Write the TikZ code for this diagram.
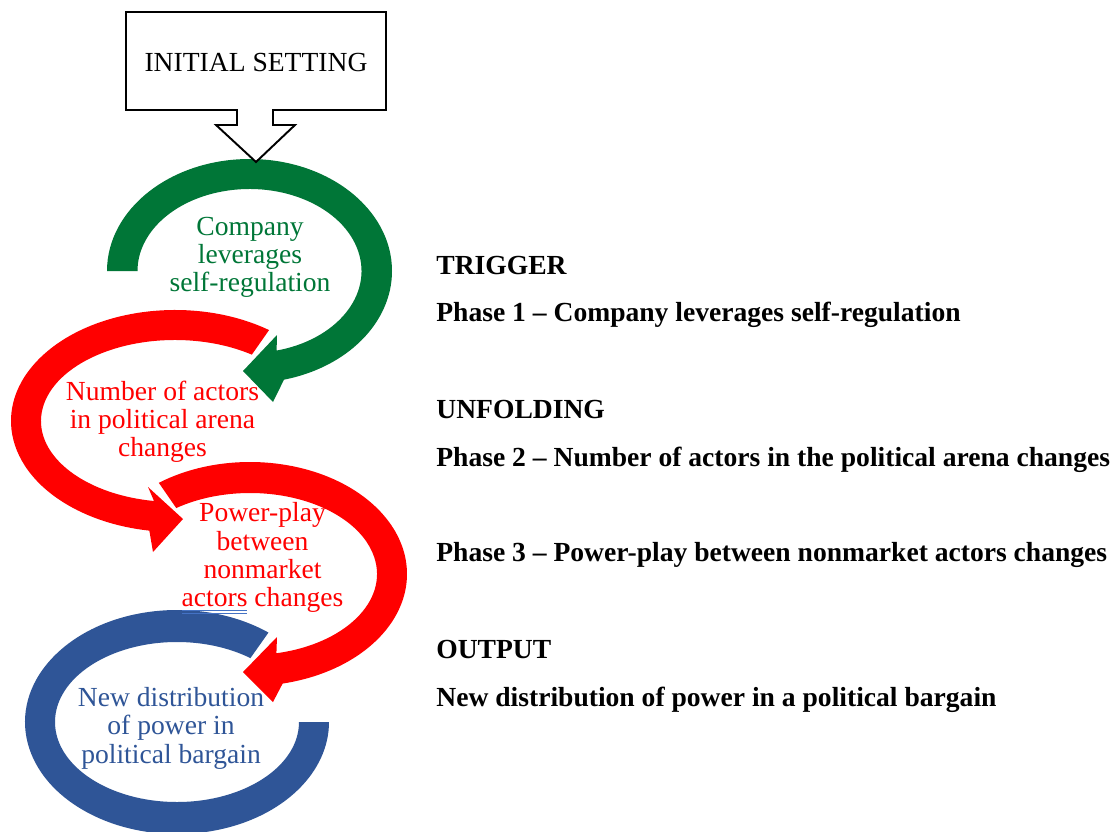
\documentclass[tikz,border=0pt]{standalone}
\usepackage{fontspec}
\setmainfont{Liberation Serif}
\definecolor{ringgreen}{RGB}{0,118,55}
\definecolor{ringred}{RGB}{255,0,0}
\definecolor{ringblue}{RGB}{47,85,151}
\definecolor{spellblue}{RGB}{68,114,196}
\tikzset{
  ring/.style={fill=#1, preaction={draw=white, line width=0.08cm}},
  ringtext/.style={align=center, inner sep=0pt, text=#1, anchor=base,
    font=\fontsize{15.7}{16.1}\selectfont},
  phase/.style={anchor=base west, inner sep=0pt,
    font=\fontsize{15.7}{18}\selectfont\bfseries}
}
\begin{document}
\begin{tikzpicture}[x=0.02cm, y=-0.02cm]
\useasboundingbox (0,0) rectangle (1118,831);
% centres of the rings
\coordinate (gc) at (249.5,271);
\coordinate (rc1) at (175,421);
\coordinate (rc2) at (250,574);
\coordinate (bc) at (177,722);

% output ring, no head
\path[ring=ringblue] ([shift={(-53:152 and 112)}]bc)
  arc[start angle=-53, end angle=-360, x radius=152, y radius=112]
  -- ([shift={(0:122 and 80)}]bc)
  arc[start angle=-360, end angle=-53, x radius=122, y radius=80] -- cycle;
% phase 3
\path[ring=ringred] ([shift={(234.5:157 and 112)}]rc2)
  arc[start angle=234.5, end angle=438, x radius=157, y radius=112]
  -- (273,702) -- (243,672) -- (277,637)
  -- ([shift={(438:127 and 81)}]rc2)
  arc[start angle=438, end angle=234.5, x radius=127, y radius=81] -- cycle;
% phase 2
\path[ring=ringred] ([shift={(-55:164 and 111)}]rc1)
  arc[start angle=-55, end angle=-261, x radius=164, y radius=111]
  -- (153,552) -- (183,519) -- (148,487)
  -- ([shift={(-261:134 and 81)}]rc1)
  arc[start angle=-261, end angle=-55, x radius=134, y radius=81] -- cycle;
% phase 1
\path[ring=ringgreen] ([shift={(180:142.5 and 112)}]gc)
  arc[start angle=180, end angle=436, x radius=142.5, y radius=112]
  -- (273,402) -- (243,371) -- (277,335)
  -- ([shift={(436:112 and 82)}]gc)
  arc[start angle=436, end angle=180, x radius=112, y radius=82] -- cycle;

% initial setting callout
\draw[line width=1.1pt, fill=white] (126,12) -- (386,12) -- (386,110)
  -- (273,110) -- (273,125) -- (295,125) -- (256,162) -- (216,125)
  -- (237,125) -- (237,110) -- (126,110) -- cycle;
\node[anchor=base, inner sep=0pt, font=\fontsize{15.7}{16.1}\selectfont]
  (setting) at (256,71.7) {INITIAL SETTING};

% ring labels (base = last line)
\node[ringtext=ringgreen] (trigtext) at (250,291.7) {Company\\leverages\\self-regulation};
\node[ringtext=ringred] (numtext) at (162.5,456.7) {Number of actors\\in political arena\\changes};
\node[ringtext=ringred] (powtext) at (262.5,606.7) {Power-play\\between\\nonmarket\\actors changes};
\node[ringtext=ringblue] (distext) at (171,763) {New distribution\\of power in\\political bargain};
\draw[spellblue, line width=0.4pt] (182,610.5) -- (247,610.5) (182,613) -- (247,613);

\node[phase] (trigger) at (436,274.3) {TRIGGER};
\node[phase] (phase1) at (436,321) {Phase 1 \textendash{} Company leverages self-regulation};
\node[phase] (unfolding) at (436,418.3) {UNFOLDING};
\node[phase] (phase2) at (436,466) {Phase 2 \textendash{} Number of actors in the political arena changes};
\node[phase] (phase3) at (436,561.7) {Phase 3 \textendash{} Power-play between nonmarket actors changes};
\node[phase] (output) at (436,658.3) {OUTPUT};
\node[phase] (newdist) at (436,706) {New distribution of power in a political bargain};
\end{tikzpicture}
\end{document}
